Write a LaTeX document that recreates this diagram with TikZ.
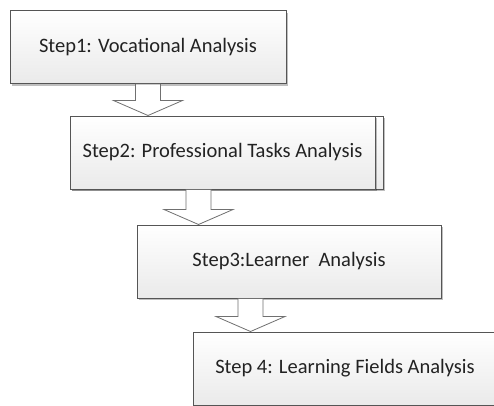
\documentclass[tikz,border=0pt]{standalone}
\usepackage{fontspec}
\setmainfont{Carlito}
\usetikzlibrary{calc,shadows}
\definecolor{boxline}{HTML}{555555}
\definecolor{boxbot}{HTML}{EAEAEA}
\definecolor{arrowline}{HTML}{707070}
\definecolor{textc}{HTML}{222222}
\begin{document}
\begin{tikzpicture}[x=1pt,y=-1pt]
\tikzset{
  stepbox/.style={draw=boxline, line width=1pt, top color=white, bottom color=boxbot,
    inner sep=0pt, minimum height=73pt, text=textc,
    font=\fontsize{20.5}{24}\selectfont,
    drop shadow={shadow xshift=2pt, shadow yshift=-2pt, opacity=0.25, fill=black}},
  blockarrow/.style={draw=arrowline, line width=0.8pt, fill=white, line join=miter}
}
\useasboundingbox (0,0) rectangle (494,405);
\clip (0,0) rectangle (494,405);
\fill[white] (0,0) rectangle (494,405);

% extra frame behind box 2
\node[stepbox, minimum width=313pt] (b2back) at (226.5,152.5) {};
\node[stepbox, minimum width=276pt] (b1) at (148,47) {Step1: Vocational Analysis};
\node[stepbox, minimum width=305pt] (b2) at (222.5,152.5) {Step2: Professional Tasks Analysis};
\node[stepbox, minimum width=304pt] (b3) at (289,261.5) {Step3:Learner\ \ Analysis};
\node[stepbox, minimum width=304pt] (b4) at (345,368.5) {Step 4: Learning Fields Analysis};

\newcommand{\blockarr}[2]{%
  \draw[blockarrow] let \p1=(#1), \p2=(#2), \n1={\y2+15} in
    (\x1-12.5,\y1) -- (\x1+12.5,\y1) -- (\x1+12.5,\n1) -- (\x1+34.5,\n1)
    -- (\x2,\y2) -- (\x1-34.5,\n1) -- (\x1-12.5,\n1) -- cycle;}

\coordinate (a1s) at (b1.south);
\coordinate (a1e) at (a1s |- b2.north);
\coordinate (a2s) at ($(b2.south west)+(129,0)$);
\coordinate (a2e) at (a2s |- b3.north);
\coordinate (a3s) at ($(b3.south west)+(114,0)$);
\coordinate (a3e) at (a3s |- b4.north);
\blockarr{a1s}{a1e}
\blockarr{a2s}{a2e}
\blockarr{a3s}{a3e}
\end{tikzpicture}
\end{document}
